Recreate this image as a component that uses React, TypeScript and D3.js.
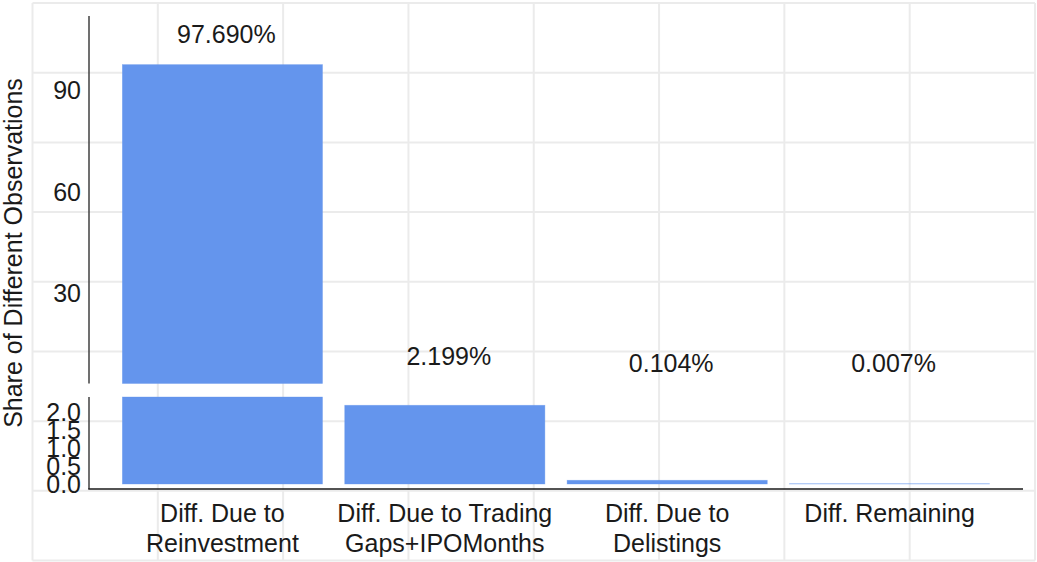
import * as d3 from 'd3'

const categories: string[][] = [
  ['Diff. Due to', 'Reinvestment'],
  ['Diff. Due to Trading', 'Gaps+IPOMonths'],
  ['Diff. Due to', 'Delistings'],
  ['Diff. Remaining'],
]
const shares = [97.69, 2.199, 0.104, 0.007]
const upperTicks = [30, 60, 90]
const lowerTicks = [0, 0.5, 1.0, 1.5, 2.0]
const upperDomain: [number, number] = [3.2, 112.1]
const lowerDomain: [number, number] = [-0.14, 2.43]

const W = 1037
const H = 562
const FONT = '"Liberation Sans", Arial, Helvetica, sans-serif'
const BAR = '#6495ed'
const INK = '#1a1a1a'
const AXIS = '#404040'
const GRID = '#ebebeb'

export default function App() {
  const x0 = 89
  const x1 = 1023
  const x = d3.scaleBand<number>()
    .domain(d3.range(categories.length))
    .range([x0, x1])
    .paddingInner(0.1)
    .paddingOuter(0.15)
  const yU = d3.scaleLinear().domain(upperDomain).range([383.5, 16])
  const yL = d3.scaleLinear().domain(lowerDomain).range([489, 397])

  // faint background grid behind the figure (8 x 8 cells)
  const gx = d3.scaleLinear().domain([0, 8]).range([32.5, 1035])
  const gy = d3.scaleLinear().domain([0, 8]).range([3, 560.5])
  const cells = d3.range(9)

  const fmt = (v: number) => d3.format('.3f')(v) + '%'
  const mid = (i: number) => (x(i) ?? 0) + x.bandwidth() / 2

  return (
    <svg width={W} height={H} style={{ position: 'absolute', left: 0, top: 0, background: '#fff' }}
      fontFamily={FONT}>
      <g stroke={GRID} strokeWidth={2}>
        {cells.map(i => (
          <line key={'v' + i} x1={gx(i)} x2={gx(i)} y1={gy(0)} y2={gy(8)} />
        ))}
        {cells.map(i => (
          <line key={'h' + i} x1={gx(0)} x2={gx(8)} y1={gy(i)} y2={gy(i)} />
        ))}
      </g>

      {/* upper panel bars */}
      {shares.map((v, i) => v > upperDomain[0] ? (
        <rect key={'u' + i} x={x(i)} width={x.bandwidth()}
          y={yU(v)} height={yU(upperDomain[0]) - yU(v)} fill={BAR}
          stroke={BAR} strokeOpacity={0.5} strokeWidth={0.7} />
      ) : null)}

      {/* lower panel bars */}
      {shares.map((v, i) => {
        const top = yL(Math.min(v, lowerDomain[1]))
        return (
          <rect key={'l' + i} x={x(i)} width={x.bandwidth()}
            y={top} height={yL(0) - top} fill={BAR}
            stroke={BAR} strokeOpacity={0.5} strokeWidth={0.7} />
        )
      })}

      {/* axes */}
      <line x1={x0} x2={x0} y1={yU(upperDomain[1])} y2={yU(upperDomain[0])} stroke={AXIS} strokeWidth={1.5} />
      <line x1={x0} x2={x0} y1={yL(lowerDomain[1])} y2={yL(lowerDomain[0])} stroke={AXIS} strokeWidth={1.5} />
      <line x1={x0 - 0.75} x2={x1} y1={yL(lowerDomain[0])} y2={yL(lowerDomain[0])} stroke={INK} strokeWidth={1.5} />

      <g fontSize={25} fill={INK} textAnchor="end">
        {upperTicks.map(t => (
          <text key={'ut' + t} x={x0 - 8} y={yU(t)} dy="0.35em">{t}</text>
        ))}
        {lowerTicks.map(t => (
          <text key={'lt' + t} x={x0 - 8} y={yL(t)} dy="0.35em">{t.toFixed(1)}</text>
        ))}
      </g>

      {/* value labels */}
      <g fontSize={25} fill={INK} textAnchor="middle">
        {shares.map((v, i) => (
          <text key={'val' + i} x={mid(i) + 4} y={yU(v) - 22}>{fmt(v)}</text>
        ))}
      </g>

      {/* category labels */}
      <g fontSize={25} fill={INK} textAnchor="middle">
        {categories.map((lines, i) => (
          <text key={'c' + i} x={mid(i)} y={yL(lowerDomain[0]) + 32.5}>
            {lines.map((s, j) => (
              <tspan key={j} x={mid(i)} dy={j === 0 ? 0 : 30}>{s}</tspan>
            ))}
          </text>
        ))}
      </g>

      <text transform="translate(21.5,253) rotate(-90)" textAnchor="middle" fontSize={25} fill={INK}>
        Share of Different Observations
      </text>
    </svg>
  )
}
